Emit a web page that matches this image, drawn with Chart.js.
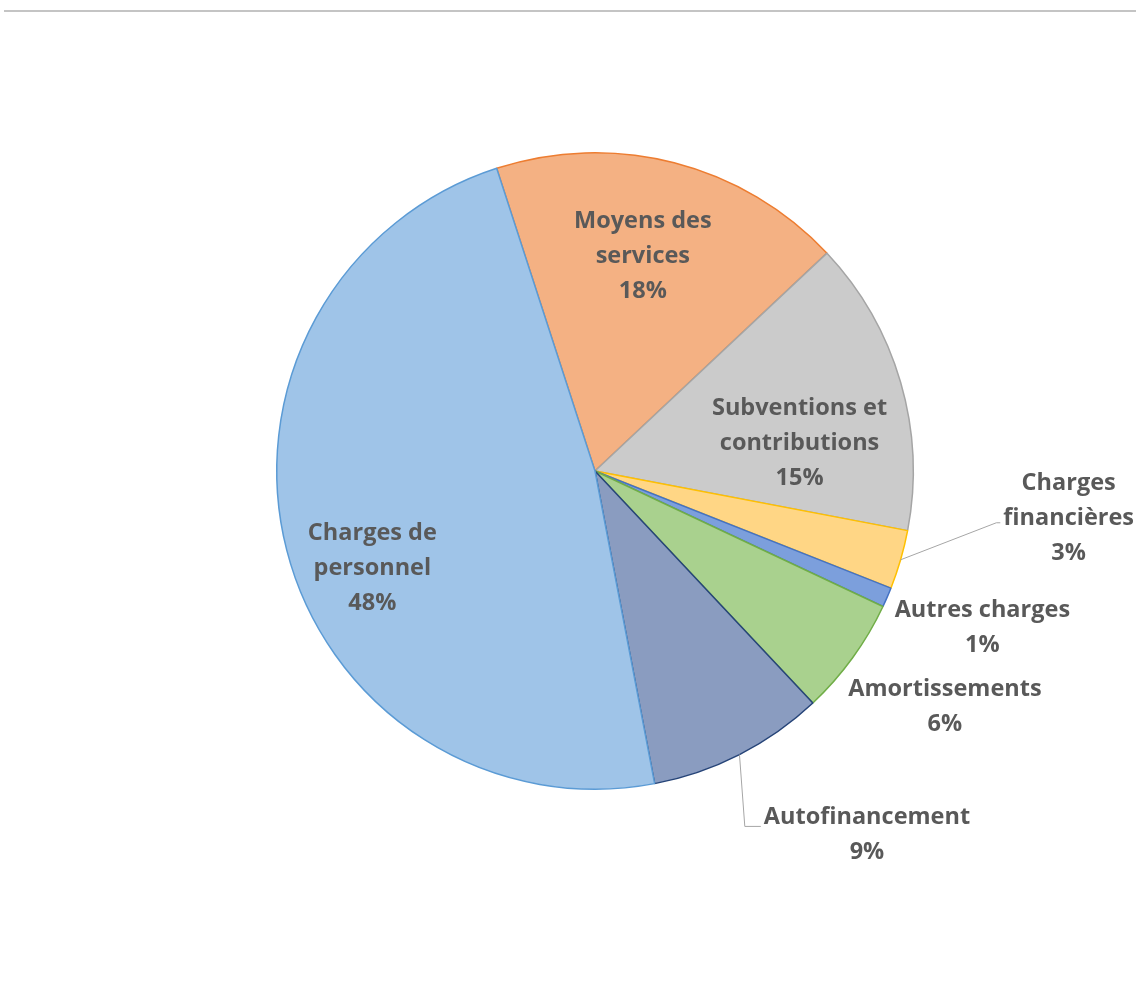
<!DOCTYPE html>
<html>
<head>
<meta charset="utf-8">
<script src="https://cdn.jsdelivr.net/npm/chart.js@4.4.1/dist/chart.umd.min.js"></script>
<style>
  html, body { margin: 0; padding: 0; background: #fff; }
  #wrap { position: relative; width: 1136px; height: 988px; }
  #topline { position: absolute; left: 4px; right: 0; top: 10px; height: 2px; background: #c4c4c4; }
  #chart { position: absolute; left: 0; top: 0; }
</style>
</head>
<body>
<div id="wrap">
  <div id="topline"></div>
  <canvas id="chart" width="1136" height="988"></canvas>
</div>
<script>
// data, in the order the slices run clockwise from the Moyens des services edge
const categories = [
    ['Moyens des', 'services'],
    ['Subventions et', 'contributions'],
    ['Charges', 'financières'],
    ['Autres charges'],
    ['Amortissements'],
    ['Autofinancement'],
    ['Charges de', 'personnel']
];
const shares = [18, 15, 3, 1, 6, 9, 48];
const pctLabels = ['18%', '15%', '3%', '1%', '6%', '9%', '48%'];

const fills = ['#F4B183', '#CBCBCB', '#FFD685', '#7C9FDC', '#A9D18E', '#8A9CC0', '#9FC4E8'];
const borders = ['#ED7D31', '#A5A5A5', '#FFC000', '#4472C4', '#70AD47', '#264478', '#5B9BD5'];

// label placement: shift from the slice mid angle (deg) and distance as a share of the radius
const labelShift = [-2, 7.6, -10.8, -1.7, -2.4, -10, -8.6];
const labelDist = [0.70, 0.65, 1.495, 1.31, 1.32, 1.42, 0.76];
// leader lines: which text line they point at, vertical offset, horizontal run
const leaders = { 2: { line: 1, dy: 4, run: 4 }, 5: { line: 0, dy: 9, run: 16 } };

const FONT = 'bold 23.5px "Open Sans", sans-serif';
const LINE_H = 35;
const TEXT_NUDGE = 3; // middle baseline sits a bit high with this font

const labelPlugin = {
    id: 'sliceLabels',
    afterDatasetsDraw(chart) {
        const ctx = chart.ctx;
        const arcs = chart.getDatasetMeta(0).data;
        ctx.save();
        ctx.font = FONT;
        ctx.fillStyle = '#595959';
        ctx.textAlign = 'center';
        ctx.textBaseline = 'middle';
        arcs.forEach((arc, i) => {
            const mid = (arc.startAngle + arc.endAngle) / 2;
            const a = mid + labelShift[i] * Math.PI / 180;
            const r = arc.outerRadius * labelDist[i];
            const cx = arc.x + Math.cos(a) * r;
            const cy = arc.y + Math.sin(a) * r + TEXT_NUDGE;
            const lines = categories[i].concat([pctLabels[i]]);
            const top = cy - (lines.length - 1) * LINE_H / 2;
            lines.forEach((t, k) => ctx.fillText(t, cx, top + k * LINE_H));

            const ld = leaders[i];
            if (ld) {
                const w = ctx.measureText(lines[ld.line]).width;
                const y = top + ld.line * LINE_H + ld.dy;
                const endX = cx - w / 2 - 3;
                ctx.beginPath();
                ctx.strokeStyle = '#a6a6a6';
                ctx.lineWidth = 1;
                ctx.moveTo(arc.x + Math.cos(mid) * arc.outerRadius, arc.y + Math.sin(mid) * arc.outerRadius);
                ctx.lineTo(endX - ld.run, y);
                ctx.lineTo(endX, y);
                ctx.stroke();
            }
        });
        ctx.restore();
    }
};

new Chart(document.getElementById('chart'), {
    type: 'pie',
    data: {
        labels: categories.map(c => c.join(' ')),
        datasets: [{
            data: shares,
            backgroundColor: fills,
            borderColor: borders,
            borderWidth: 1.5
        }]
    },
    options: {
        responsive: false,
        animation: false,
        rotation: -18,
        layout: { padding: { left: 276, right: 222, top: 152, bottom: 198 } },
        plugins: {
            legend: { display: false },
            tooltip: { enabled: false }
        }
    },
    plugins: [labelPlugin]
});
</script>
</body>
</html>
